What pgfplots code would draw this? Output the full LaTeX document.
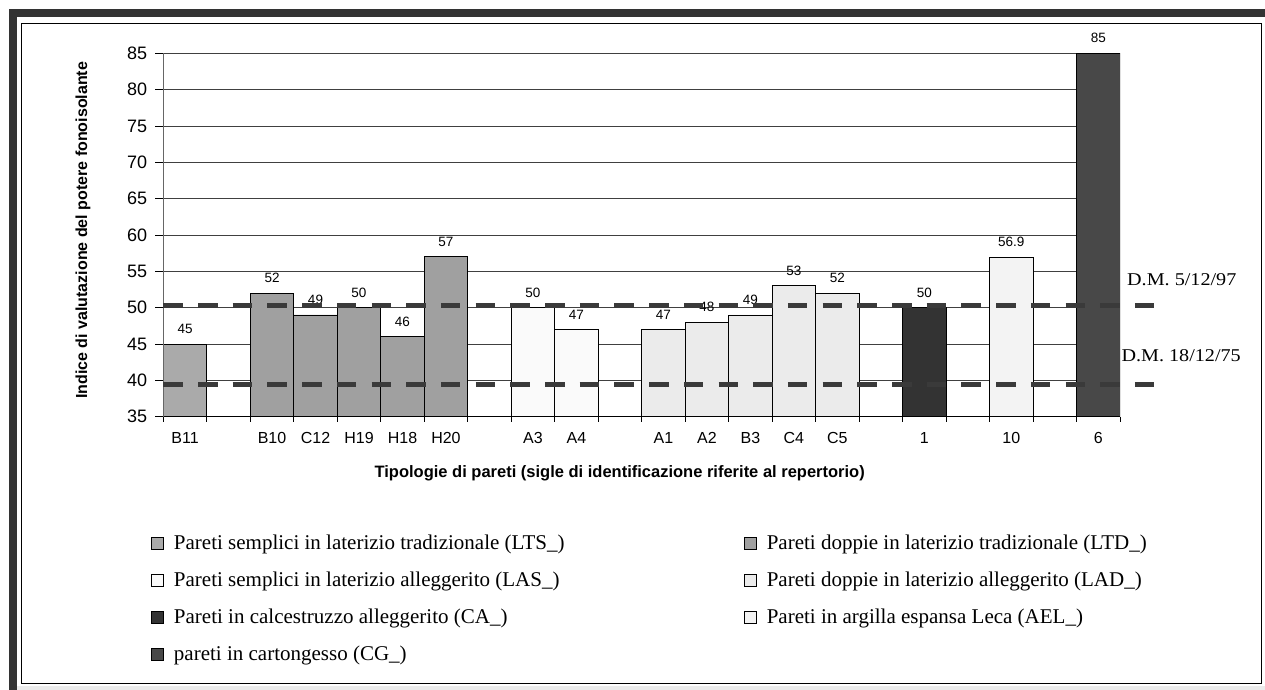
\documentclass[border=0pt]{standalone}
\usepackage{pgfplots}
\pgfplotsset{compat=1.18}
\usepackage{fontspec}
\usepackage{graphicx}
\setmainfont{Liberation Sans}
\newfontfamily\seriffont{Liberation Serif}

\definecolor{frameband}{HTML}{333333}
\definecolor{ltsgray}{HTML}{AAAAAA}
\definecolor{ltdgray}{HTML}{A0A0A0}
\definecolor{lasgray}{HTML}{FAFAFA}
\definecolor{ladgray}{HTML}{EBEBEB}
\definecolor{cagray}{HTML}{333333}
\definecolor{aelgray}{HTML}{F3F3F3}
\definecolor{cggray}{HTML}{484848}
\definecolor{limitgray}{HTML}{3A3A3A}

\begin{document}
\begin{tikzpicture}
\useasboundingbox (0pt,0pt) rectangle (1265pt,690pt);
% outer frame
\fill[frameband] (9.3pt,0pt) rectangle (16.7pt,680.7pt);
\fill[frameband] (9.3pt,673.3pt) rectangle (1265pt,680.7pt);
\fill[black!8] (16.7pt,0pt) rectangle (1265pt,4pt);
\draw[black, line width=1pt] (21.7pt,6.5pt) rectangle (1261.7pt,666.7pt);

\begin{axis}[
  at={(163.3pt,273.3pt)}, anchor=south west,
  scale only axis, width=956.7pt, height=363.4pt,
  xmin=0, xmax=22, ymin=35, ymax=85,
  ybar, bar width=1, /pgf/bar shift=0pt,
  axis x line*=bottom, axis y line*=left, axis line style={-},
  tick align=outside,
  major tick length=5pt, minor tick length=8pt,
  tick style={black, line width=0.9pt},
  xtick={0,1,...,22}, xticklabels={},
  extra x ticks={0.5,2.5,3.5,4.5,5.5,6.5,8.5,9.5,11.5,12.5,13.5,14.5,15.5,17.5,19.5,21.5},
  extra x tick labels={B11,B10,C12,H19,H18,H20,A3,A4,A1,A2,B3,C4,C5,1,10,6},
  extra x tick style={major tick length=0pt},
  xticklabel style={font=\fontsize{16}{19}\selectfont, inner sep=0pt, anchor=base, yshift=-26.5pt},
  ytick={35,40,...,85}, minor ytick={35,40,...,85},
  yticklabel style={font=\fontsize{18}{21}\selectfont, inner sep=0pt, anchor=east, xshift=-11pt},
  /pgf/number format/assume math mode=true,
  ymajorgrids, major grid style={black!75, line width=0.9pt},
  xlabel={Tipologie di pareti (sigle di identificazione riferite al repertorio)},
  xlabel style={font=\bfseries\fontsize{16.5}{19}\selectfont, at={(axis description cs:0.477,-0.157)}, anchor=center},
  ylabel={Indice di valutazione del potere fonoisolante},
  ylabel style={font=\bfseries\fontsize{16}{19}\selectfont, at={(axis description cs:-0.084,0.513)}, anchor=center},
  nodes near coords,
  every node near coord/.append style={font=\fontsize{13.5}{15}\selectfont, text=black, inner sep=1pt, yshift=9pt},
  legend columns=2,
  legend cell align=left,
  legend image code/.code={\draw[#1, draw=black, line width=0.8pt] (0pt,-6pt) rectangle (12pt,6pt);},
  legend style={at={(axis description cs:-0.016,-0.3145)}, anchor=north west,
    draw=none, fill=none,
    font=\seriffont\fontsize{21}{25}\selectfont,
    nodes={inner sep=0pt, text height=16pt, text depth=5pt},
    row sep=16pt,
    /tikz/every odd column/.append style={column sep=10pt}},
]
\addplot[fill=ltsgray, draw=black, line width=0.8pt] coordinates {(0.5,45)};
\addlegendentry{\makebox[570pt][l]{Pareti semplici in laterizio tradizionale (LTS\_)}}
\addplot[fill=ltdgray, draw=black, line width=0.8pt] coordinates {(2.5,52) (3.5,49) (4.5,50) (5.5,46) (6.5,57)};
\addlegendentry{Pareti doppie in laterizio tradizionale (LTD\_)}
\addplot[fill=lasgray, draw=black, line width=0.8pt] coordinates {(8.5,50) (9.5,47)};
\addlegendentry{\makebox[570pt][l]{Pareti semplici in laterizio alleggerito (LAS\_)}}
\addplot[fill=ladgray, draw=black, line width=0.8pt] coordinates {(11.5,47) (12.5,48) (13.5,49) (14.5,53) (15.5,52)};
\addlegendentry{Pareti doppie in laterizio alleggerito (LAD\_)}
\addplot[fill=cagray, draw=black, line width=0.8pt] coordinates {(17.5,50)};
\addlegendentry{\makebox[570pt][l]{Pareti in calcestruzzo alleggerito (CA\_)}}
\addplot[fill=aelgray, draw=black, line width=0.8pt] coordinates {(19.5,56.9)};
\addlegendentry{Pareti in argilla espansa Leca (AEL\_)}
\addplot[fill=cggray, draw=black, line width=0.8pt] coordinates {(21.5,85)};
\addlegendentry{\makebox[570pt][l]{pareti in cartongesso (CG\_)}}
\end{axis}

% axis lines and regulatory limits drawn over the bars
\begin{axis}[
  at={(163.3pt,273.3pt)}, anchor=south west,
  scale only axis, width=956.7pt, height=363.4pt,
  xmin=0, xmax=22, ymin=35, ymax=85, clip=false,
  axis x line*=bottom, axis y line*=left, axis line style={-},
  x axis line style={black, line width=1.6pt},
  y axis line style={black!60, line width=1pt},
  xtick=\empty, ytick=\empty,
]
\addplot[limitgray, line width=4.5pt, line cap=butt, dash pattern=on 19.5pt off 15.2pt] coordinates {(0,50.3) (22.78,50.3)};
\addplot[limitgray, line width=4.5pt, line cap=butt, dash pattern=on 19.5pt off 15.2pt] coordinates {(0,39.45) (22.78,39.45)};
\node[anchor=base west, inner sep=0pt, font=\seriffont\fontsize{18}{21}\selectfont] at (axis cs:22.16,53.1) {\scalebox{1.12}[1]{D.M. 5/12/97}};
\node[anchor=base west, inner sep=0pt, font=\seriffont\fontsize{18}{21}\selectfont] at (axis cs:22.03,42.57) {\scalebox{1.12}[1]{D.M. 18/12/75}};
\end{axis}
\end{tikzpicture}
\end{document}
